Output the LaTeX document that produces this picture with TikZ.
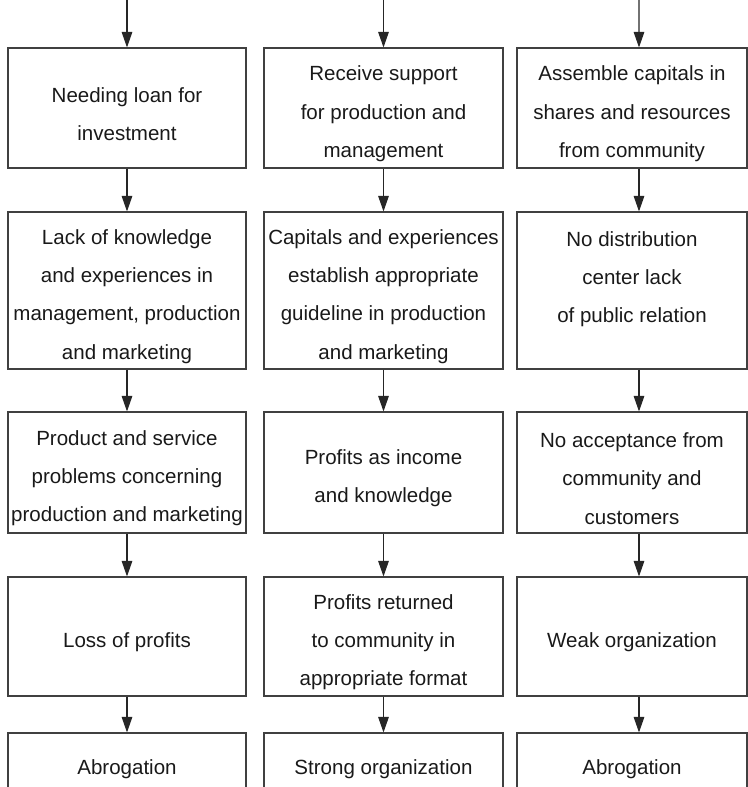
\documentclass[tikz,border=0pt]{standalone}
\usepackage{fontspec}
\setmainfont{Liberation Sans}
\usetikzlibrary{arrows.meta}

\begin{document}
\begin{tikzpicture}[
  box/.style={draw=black!75, line width=0.8pt, align=flush center, inner xsep=0pt, inner ysep=2pt, text=black!90, font=\fontsize{14.6}{27.2}\selectfont, execute at begin node={\rule{0pt}{19pt}}},
  colA/.style={box, text width=5.95cm, minimum width=5.95cm},
  colB/.style={box, text width=5.975cm, minimum width=5.975cm},
  colC/.style={box, text width=5.75cm, minimum width=5.75cm},
  arrow/.style={-{Triangle[length=11pt, width=7.5pt]}, line width=0.8pt, black!85}
]

% Frame of the picture (last row is cut off at the bottom)
\useasboundingbox (0,0) rectangle (18.7,-19.675);
\clip (0,0) rectangle (18.7,-19.675);

% --- Column 1 ---
\coordinate (inA) at (3.175,0);
\node[colA, minimum height=3cm] (loan) at (3.175,-2.7) {Needing loan for\\investment};
\node[colA, minimum height=3.925cm] (lack) at (3.175,-7.2625) {Lack of knowledge\\and experiences in\\management, production\\and marketing};
\node[colA, minimum height=3.025cm] (problem) at (3.175,-11.8125) {Product and service\\problems concerning\\production and marketing};
\node[colA, minimum height=2.975cm] (loss) at (3.175,-15.9125) {Loss of profits};
\node[colA, minimum height=1.5cm] (abrogA) at (3.175,-19.075) {Abrogation};

% --- Column 2 ---
\coordinate (inB) at (9.5875,0);
\node[colB, minimum height=3cm] (support) at (9.5875,-2.7) {Receive support\\for production and\\management};
\node[colB, minimum height=3.925cm] (capexp) at (9.5875,-7.2625) {Capitals and experiences\\establish appropriate\\guideline in production\\and marketing};
\node[colB, minimum height=3.025cm] (income) at (9.5875,-11.8125) {Profits as income\\and knowledge};
\node[colB, minimum height=2.975cm] (returned) at (9.5875,-15.9125) {Profits returned\\to community in\\appropriate format};
\node[colB, minimum height=1.5cm] (strong) at (9.5875,-19.075) {Strong organization};

% --- Column 3 ---
\coordinate (inC) at (15.975,0);
\node[colC, minimum height=3cm] (shares) at (15.8,-2.7) {Assemble capitals in\\shares and resources\\from community};
\node[colC, minimum height=3.925cm] (nodist) at (15.8,-7.2625) {No distribution\\center lack\\of public relation\\~};
\node[colC, minimum height=3.025cm] (accept) at (15.8,-11.8125) {No acceptance from\\community and\\customers};
\node[colC, minimum height=2.975cm] (weak) at (15.8,-15.9125) {Weak organization};
\node[colC, minimum height=1.5cm] (abrogC) at (15.8,-19.075) {Abrogation};

% Arrows
\draw[arrow] (inA) -- (loan.north);
\draw[arrow] (loan) -- (lack);
\draw[arrow] (lack) -- (problem);
\draw[arrow] (problem) -- (loss);
\draw[arrow] (loss) -- (abrogA);

\draw[arrow] (inB) -- (support.north);
\draw[arrow] (support) -- (capexp);
\draw[arrow] (capexp) -- (income);
\draw[arrow] (income) -- (returned);
\draw[arrow] (returned) -- (strong);

% arrows of the third column sit a little right of the box centres
\draw[arrow] (inC) -- ([xshift=0.175cm]shares.north);
\draw[arrow] ([xshift=0.175cm]shares.south) -- ([xshift=0.175cm]nodist.north);
\draw[arrow] ([xshift=0.175cm]nodist.south) -- ([xshift=0.175cm]accept.north);
\draw[arrow] ([xshift=0.175cm]accept.south) -- ([xshift=0.175cm]weak.north);
\draw[arrow] ([xshift=0.175cm]weak.south) -- ([xshift=0.175cm]abrogC.north);

\end{tikzpicture}
\end{document}
